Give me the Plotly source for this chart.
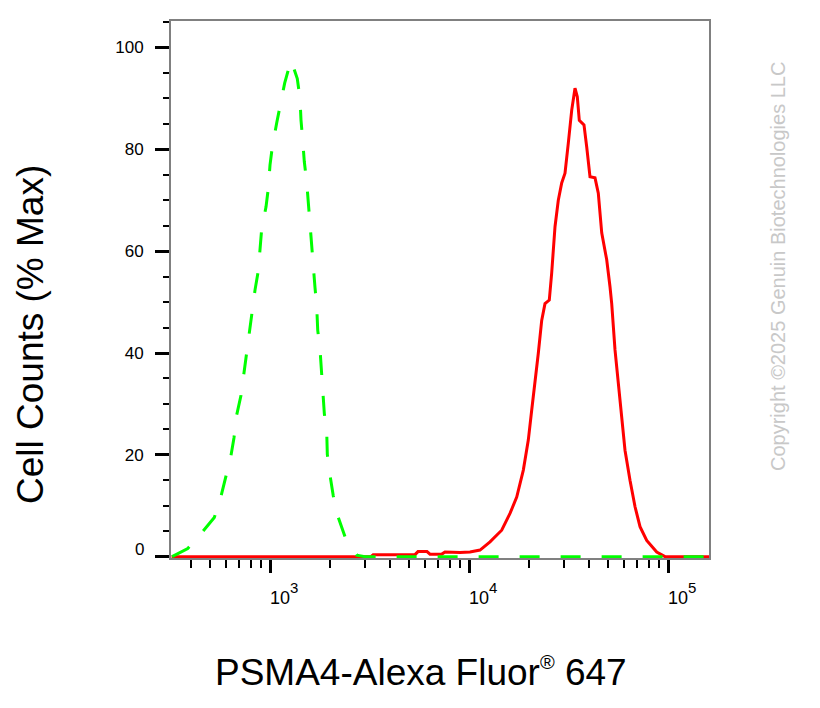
import math
import plotly.graph_objects as go

# ---- data ----
iso_x = [322, 386, 454, 525, 565, 599, 635, 659, 680, 715, 740, 764, 787, 815, 841, 873,
         891, 908, 955, 981, 1000, 1027, 1081, 1123, 1185, 1275, 1371, 1415, 1431, 1460,
         1487, 1529, 1557, 1594, 1620, 1651, 1683, 1717, 1737, 1784, 1819, 1853, 1875,
         1928, 1941, 2002, 2080, 2204, 2382, 2728, 3000, 5000, 10000, 50000, 100000, 165000]
iso_y = [0, 1.6, 4.7, 7.7, 11.6, 15.7, 19.6, 23.3, 27.8, 31.7, 36.1, 39.9, 44.2, 48.1, 52.4, 56.1,
         60.6, 64.3, 68.7, 72.4, 76.9, 80.5, 85.2, 88.7, 93.0, 97.5, 93.9, 90.0, 85.8, 81.8,
         77.6, 73.6, 69.4, 65.5, 61.1, 57.3, 52.9, 49.1, 44.5, 40.7, 36.3, 32.6, 28.1,
         24.3, 20.1, 16.0, 11.9, 7.7, 3.9, 0.3, 0, 0, 0, 0, 0, 0]

stain_x = [320, 3218, 3300, 5353, 5543, 6151, 6368, 7300, 7574, 9013, 10116, 11358, 12752,
           14600, 16070, 17370, 18750, 19860, 20660, 21460, 22290, 23190, 24090, 25320,
           26030, 27050, 28100, 29230, 30370, 31550, 32820, 34090, 35010, 35830, 36840,
           37830, 39030, 40550, 42970, 44640, 46440, 49200, 51110, 52130, 54160, 56270,
           58520, 60800, 64420, 68290, 72340, 78160, 87750, 96600, 165000]
stain_y = [0, 0, 0.4, 0.4, 1.0, 1.0, 0.5, 0.5, 0.9, 0.8, 0.9, 1.3, 2.9,
           5.2, 8.5, 11.7, 17.0, 22.9, 28.8, 34.0, 39.9, 46.4, 49.7, 50.4,
           55.7, 64.8, 70.0, 73.4, 75.3, 81.2, 87.7, 92.0, 90.3, 85.7, 85.2,
           84.8, 80.5, 74.6, 74.4, 71.4, 63.6, 58.3, 53.0, 49.7, 40.6, 34.0,
           27.5, 20.9, 15.0, 9.8, 5.9, 3.2, 0.9, 0, 0]

x_major = [1000, 10000, 100000]
x_major_base = ["10", "10", "10"]
x_major_exp = ["3", "4", "5"]
x_minor = [400, 500, 600, 700, 800, 900,
           2000, 3000, 4000, 5000, 6000, 7000, 8000, 9000,
           20000, 30000, 40000, 50000, 60000, 70000, 80000, 90000]
y_major = [0, 20, 40, 60, 80, 100]
y_major_labels = ["", "20", "40", "60", "80", "100"]
y_zero_label = "0"

x_title = "PSMA4-Alexa Fluor<sup><span style='font-size:20px'>®</span></sup> 647"
y_title = "Cell Counts (% Max)"
watermark = "Copyright ©2025 Genuin Biotechnologies LLC"

FONT = "Liberation Sans, Arial, sans-serif"

fig = go.Figure()
fig.add_trace(go.Scatter(x=stain_x, y=stain_y, mode="lines",
                         line=dict(color="#ff0000", width=3), showlegend=False))
fig.add_trace(go.Scatter(x=iso_x, y=iso_y, mode="lines",
                         line=dict(color="#00ff00", width=3, dash="20px,21px"),
                         showlegend=False))

fig.update_layout(
    width=820, height=708,
    margin=dict(l=163, r=119, t=13, b=158),
    paper_bgcolor="white", plot_bgcolor="white",
    font=dict(family=FONT, color="black"),
    xaxis=dict(type="log", range=[2.5025, 5.206], showgrid=False, zeroline=False,
               showline=True, linecolor="#808080", linewidth=2, mirror=True,
               tickmode="array", tickvals=x_major, showticklabels=False,
               ticks="outside", ticklen=13, tickwidth=3, tickcolor="black",
               minor=dict(tickmode="array", tickvals=x_minor, ticks="outside",
                          ticklen=8, tickwidth=2, tickcolor="black", showgrid=False)),
    yaxis=dict(range=[-0.26, 105.2], showgrid=False, zeroline=False,
               showline=True, linecolor="#808080", linewidth=2, mirror=True,
               tickmode="array", tickvals=y_major, ticktext=y_major_labels,
               ticks="outside", ticklen=14, tickwidth=3, tickcolor="black",
               tickfont=dict(size=17, family=FONT, color="black"),
               ticklabelstandoff=8,
               minor=dict(dtick=5, ticks="outside", ticklen=6, tickwidth=2,
                          tickcolor="black", showgrid=False)),
)

annotations = []
# "0" label sits slightly above its tick in the reference
annotations.append(dict(x=0, y=0, xref="paper", yref="y", text=y_zero_label, showarrow=False,
                        xanchor="right", yanchor="middle", xshift=-25, yshift=7,
                        font=dict(size=17, family=FONT, color="black")))
for v, b, e in zip(x_major, x_major_base, x_major_exp):
    annotations.append(dict(x=math.log10(v), y=0, xref="x", yref="paper", text=b,
                            showarrow=False, xanchor="left", yanchor="top",
                            xshift=-2, yshift=-28,
                            font=dict(size=18, family=FONT, color="black")))
    annotations.append(dict(x=math.log10(v), y=0, xref="x", yref="paper", text=e,
                            showarrow=False, xanchor="left", yanchor="top",
                            xshift=18, yshift=-19,
                            font=dict(size=15, family=FONT, color="black")))
annotations.append(dict(x=0.4656, y=-0.2123, xref="paper", yref="paper", text=x_title,
                        showarrow=False, xanchor="center", yanchor="middle",
                        font=dict(size=37, family=FONT, color="black")))
annotations.append(dict(x=-0.2602, y=0.4153, xref="paper", yref="paper", text=y_title,
                        showarrow=False, xanchor="center", yanchor="middle", textangle=-90,
                        font=dict(size=37, family=FONT, color="black")))
annotations.append(dict(x=1.1283, y=0.5419, xref="paper", yref="paper", text=watermark,
                        showarrow=False, xanchor="center", yanchor="middle", textangle=-90,
                        font=dict(size=20, family=FONT, color="#c8c8c8")))
fig.update_layout(annotations=annotations)

fig.write_html("out.html")
